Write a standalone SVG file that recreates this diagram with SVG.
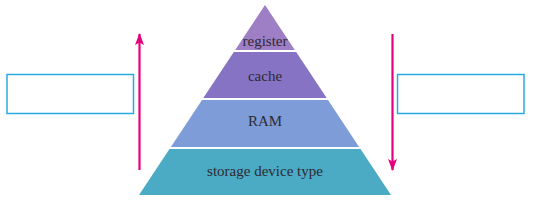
<svg xmlns="http://www.w3.org/2000/svg" width="534" height="201" viewBox="0 0 534 201">
<style>
.lbl{font-family:"Liberation Serif","Times New Roman",serif;font-size:15px;fill:#2e2a33;text-anchor:middle}
.box{fill:#ffffff;stroke:#29abe2;stroke-width:1.5}
.arr{stroke:#e6007e;stroke-width:2.2;fill:none;marker-end:url(#ah)}
</style>
<defs>
<marker id="ah" viewBox="0 0 12 10" refX="11" refY="5" markerWidth="12" markerHeight="10" markerUnits="userSpaceOnUse" orient="auto">
<path d="M0,0.5 L12,5 L0,9.5 L2.5,5 Z" fill="#e6007e"/>
</marker>
</defs>
<rect width="534" height="201" fill="#ffffff"/>
<g id="register">
<polygon points="265,5 294.8,50 235.2,50" fill="#9e7fc6"/>
<text class="lbl" x="265" y="46" font-size="14.5">register</text>
</g>
<g id="cache">
<polygon points="233.8,52 296.2,52 326.7,98 203.3,98" fill="#8673c4"/>
<text class="lbl" x="265" y="81" font-size="16">cache</text>
</g>
<g id="ram">
<polygon points="202,100 328,100 359.1,147 170.9,147" fill="#7d9cd8"/>
<text class="lbl" x="265" y="126">RAM</text>
</g>
<g id="storage">
<polygon points="169.5,149 360.5,149 391,195 139,195" fill="#4babc4"/>
<text class="lbl" x="265" y="176" font-size="15.5">storage device type</text>
</g>
<g id="left-box"><rect class="box" x="7" y="74.5" width="126.5" height="39"/></g>
<g id="right-box"><rect class="box" x="397.5" y="74.5" width="126.5" height="39"/></g>
<g id="connectors">
<line class="arr" x1="139.5" y1="170" x2="139.5" y2="34"/>
<line class="arr" x1="392.5" y1="34" x2="392.5" y2="170"/>
</g>
</svg>
